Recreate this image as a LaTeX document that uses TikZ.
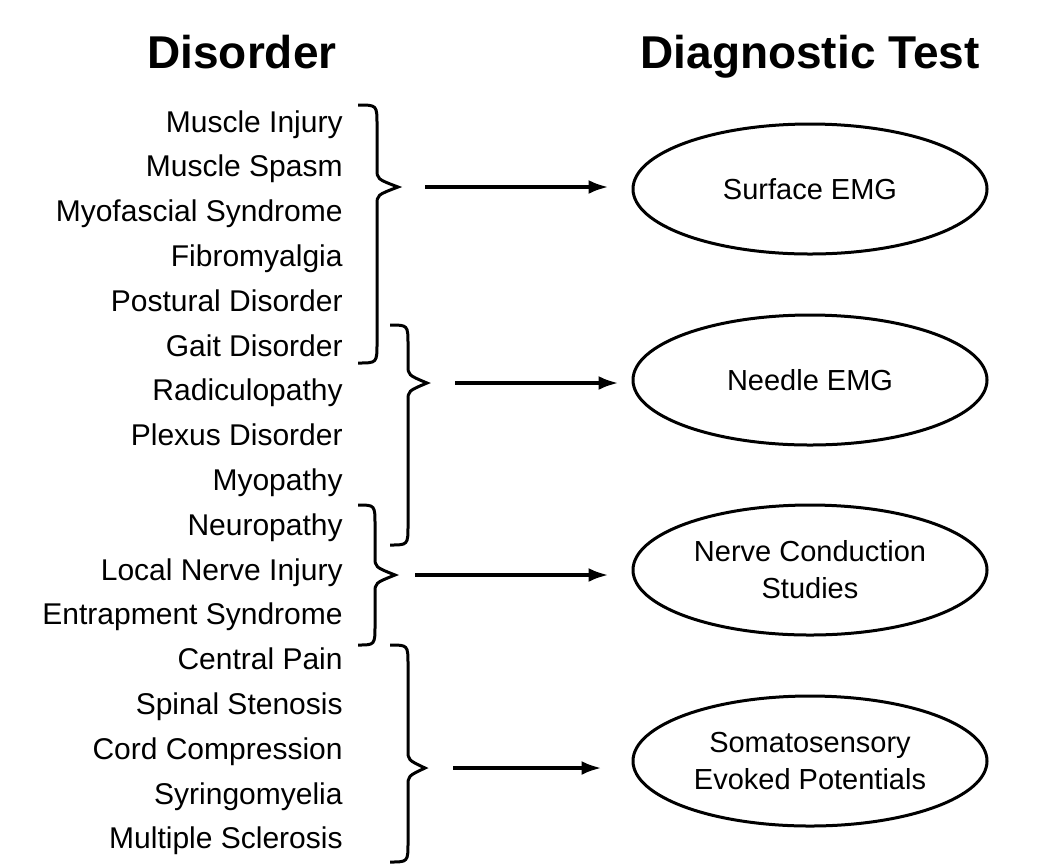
\documentclass[tikz,border=0pt]{standalone}
\usepackage{fontspec}
\setmainfont{Liberation Sans}
\usetikzlibrary{arrows.meta,shapes.geometric}
\newcommand\mybrace[7]{%
  \draw[brace] (#2,#5) .. controls (#3,#5) .. (#3,#5+20) -- (#3,#6-18)
    .. controls (#3,#6-8) .. (#4,#6) .. controls (#3,#6+8) .. (#3,#6+18)
    -- (#3,#7-20) .. controls (#3,#7) .. (#2,#7);
  \coordinate (#1) at (#4,#6);}
\begin{document}
\begin{tikzpicture}[x=0.5pt,y=-0.5pt,
  dis/.style={anchor=base east,inner sep=0pt,font=\fontsize{15}{18}\selectfont},
  head/.style={anchor=base,inner sep=0pt,font=\fontsize{23}{28}\selectfont\bfseries},
  test/.style={ellipse,draw,line width=1.5pt,minimum width=177pt,minimum height=65pt,
    inner sep=0pt,align=center,font=\fontsize{14.5}{18.5}\selectfont},
  brace/.style={line width=1.5pt,line join=miter},
  arr/.style={line width=1.8pt,-{Latex[length=10pt,width=7pt]}}]
\useasboundingbox (0,0) rectangle (1054,864);
\node[head] (hd) at (242,68) {Disorder};
\node[head] (ht) at (810,68) {Diagnostic Test};
\foreach \t [count=\i from 0] in {Muscle Injury,Muscle Spasm,Myofascial Syndrome,
  Fibromyalgia,Postural Disorder,Gait Disorder,Radiculopathy,Plexus Disorder,
  Myopathy,Neuropathy,Local Nerve Injury,Entrapment Syndrome,Central Pain,
  Spinal Stenosis,Cord Compression,Syringomyelia,Multiple Sclerosis}
  \node[dis] (d\i) at (343,{132+44.8*\i}) {\t};
\node[test] (e1) at (810,189) {Surface EMG};
\node[test] (e2) at (810,380) {Needle EMG};
\node[test] (e3) at (810,570) {Nerve Conduction\\Studies};
\node[test] (e4) at (810,761) {Somatosensory\\Evoked Potentials};
\mybrace{b1}{358}{377}{398}{105}{187}{363}
\mybrace{b2}{390}{408}{427}{325}{383}{545}
\mybrace{b3}{358}{375}{395}{505}{575}{645}
\mybrace{b4}{390}{408}{425}{645}{768}{862}
\draw[arr,shorten <=13.5pt,shorten >=11.5pt] (b1) -- (b1 -| e1.west);
\draw[arr,shorten <=14pt,shorten >=6.5pt] (b2) -- (b2 -| e2.west);
\draw[arr,shorten <=10pt,shorten >=11.5pt] (b3) -- (b3 -| e3.west);
\draw[arr,shorten <=14pt,shorten >=15pt] (b4) -- (b4 -| e4.west);
\end{tikzpicture}
\end{document}
